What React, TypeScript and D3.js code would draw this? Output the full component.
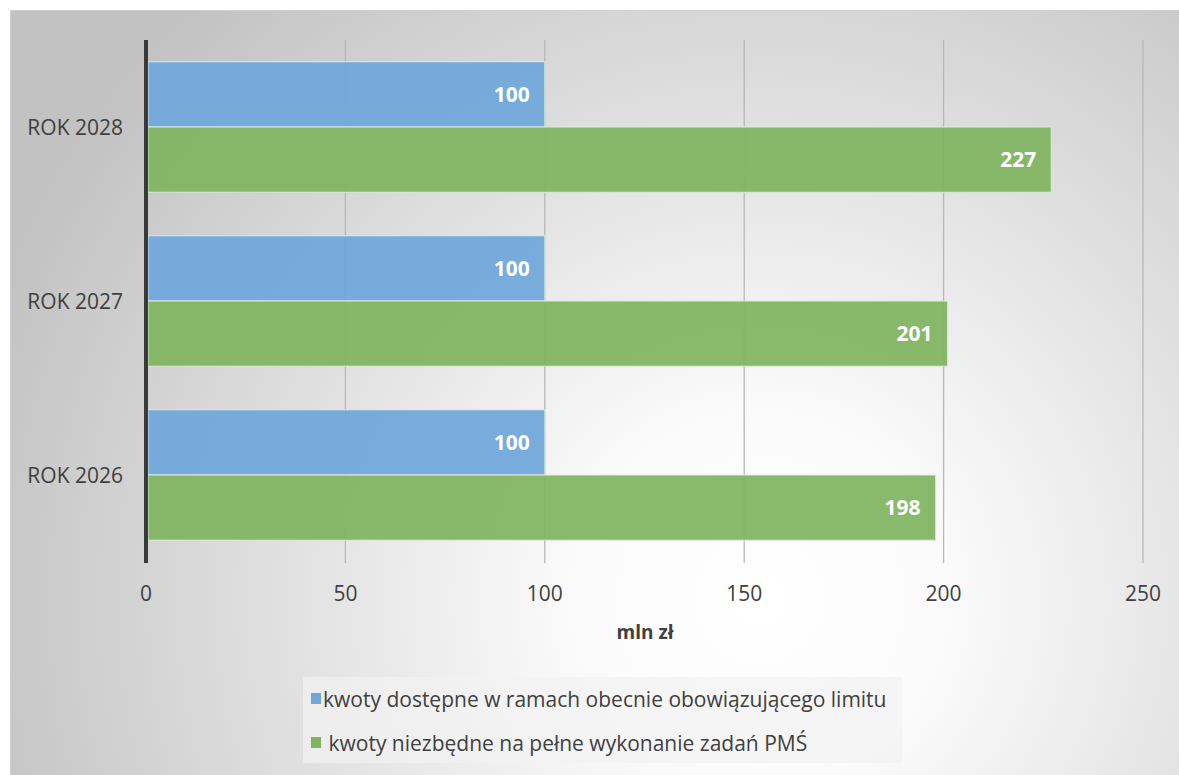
import React, { useEffect, useRef } from "react";
import * as d3 from "d3";

const categories = ["ROK 2028", "ROK 2027", "ROK 2026"];
const seriesNames = [
  "kwoty dostępne w ramach obecnie obowiązującego limitu",
  " kwoty niezbędne na pełne wykonanie zadań PMŚ",
];
const availableValues = [100, 100, 100];
const requiredValues = [227, 201, 198];
const xTicks = [0, 50, 100, 150, 200, 250];
const colors = ["#6fa7da", "#80b560"];

const W = 1179;
const H = 775;
const FONT = "Open Sans, Carlito, sans-serif";

const drawChart = (svgEl: SVGSVGElement) => {
  const svg = d3.select(svgEl);
  svg.selectAll("*").remove();

  const defs = svg.append("defs");
  const grad = defs
    .append("radialGradient")
    .attr("id", "bg")
    .attr("gradientUnits", "userSpaceOnUse")
    .attr("cx", 760)
    .attr("cy", 600)
    .attr("r", 820);
  grad.append("stop").attr("offset", "0").attr("stop-color", "#ffffff");
  grad.append("stop").attr("offset", "0.22").attr("stop-color", "#fbfbfb");
  grad.append("stop").attr("offset", "1").attr("stop-color", "#c2c2c2");

  svg
    .append("rect")
    .attr("x", 10.5)
    .attr("y", 10.5)
    .attr("width", W)
    .attr("height", H)
    .attr("fill", "url(#bg)")
    .attr("stroke", "#d0d0d0");

  const x = d3.scaleLinear().domain([0, 250]).range([146, 1143]);
  const y = d3.scaleBand().domain(categories).range([40, 562]).paddingInner(0.25).paddingOuter(0.125);
  const sub = d3.scaleBand().domain(["0", "1"]).range([0, y.bandwidth()]);

  // gridlines
  svg
    .append("g")
    .selectAll("line")
    .data(xTicks.slice(1))
    .enter()
    .append("line")
    .attr("x1", (d) => x(d))
    .attr("x2", (d) => x(d))
    .attr("y1", 40)
    .attr("y2", 563)
    .attr("stroke", "#b8b8b8")
    .attr("stroke-width", 1.3);

  const rows = categories.map((c, i) => ({
    cat: c,
    vals: [availableValues[i], requiredValues[i]],
  }));

  const groups = svg
    .append("g")
    .selectAll("g")
    .data(rows)
    .enter()
    .append("g")
    .attr("transform", (d) => `translate(0,${y(d.cat)})`);

  groups
    .selectAll("rect")
    .data((d) => d.vals.map((v, j) => ({ v, j })))
    .enter()
    .append("rect")
    .attr("x", x(0) + 2)
    .attr("y", (d) => sub(String(d.j)) || 0)
    .attr("width", (d) => x(d.v) - x(0) - 2)
    .attr("height", sub.bandwidth())
    .attr("fill", (d) => colors[d.j])
    .attr("fill-opacity", 0.93)
    .attr("stroke", "#ddeedd")
    .attr("stroke-opacity", 0.8)
    .attr("stroke-width", 1.2);

  groups
    .selectAll("text")
    .data((d) => d.vals.map((v, j) => ({ v, j })))
    .enter()
    .append("text")
    .attr("x", (d) => x(d.v) - 15)
    .attr("y", (d) => (sub(String(d.j)) || 0) + sub.bandwidth() / 2)
    .attr("dy", "0.36em")
    .attr("text-anchor", "end")
    .attr("fill", "#ffffff")
    .attr("font-family", FONT)
    .attr("font-weight", "bold")
    .attr("font-size", 21)
    .text((d) => d.v);

  // category labels
  svg
    .append("g")
    .selectAll("text")
    .data(categories)
    .enter()
    .append("text")
    .attr("x", 123)
    .attr("y", (d) => (y(d) || 0) + y.bandwidth() / 2)
    .attr("dy", "0.36em")
    .attr("text-anchor", "end")
    .attr("fill", "#404040")
    .attr("font-family", FONT)
    .attr("font-size", 21)
    .text((d) => d);

  // vertical axis line
  svg
    .append("line")
    .attr("x1", x(0))
    .attr("x2", x(0))
    .attr("y1", 40)
    .attr("y2", 563)
    .attr("stroke", "#3a3a3a")
    .attr("stroke-width", 4);

  // x tick labels
  svg
    .append("g")
    .selectAll("text")
    .data(xTicks)
    .enter()
    .append("text")
    .attr("x", (d) => x(d))
    .attr("y", 601)
    .attr("text-anchor", "middle")
    .attr("fill", "#404040")
    .attr("font-family", FONT)
    .attr("font-size", 21)
    .text((d) => d);

  svg
    .append("text")
    .attr("x", 645)
    .attr("y", 639)
    .attr("text-anchor", "middle")
    .attr("fill", "#404040")
    .attr("font-family", FONT)
    .attr("font-weight", "bold")
    .attr("font-size", 19)
    .text("mln zł");

  // legend
  const legend = svg.append("g");
  legend
    .append("rect")
    .attr("x", 303)
    .attr("y", 677)
    .attr("width", 599)
    .attr("height", 86)
    .attr("fill", "#f2f2f2")
    .attr("fill-opacity", 0.7);

  const items = legend
    .selectAll("g")
    .data(seriesNames)
    .enter()
    .append("g")
    .attr("transform", (_, i) => `translate(311,${699 + i * 44})`);

  items
    .append("rect")
    .attr("x", 0)
    .attr("y", -6)
    .attr("width", 10)
    .attr("height", 11)
    .attr("fill", (_, i) => colors[i]);

  items
    .append("text")
    .attr("x", 12)
    .attr("y", 0)
    .attr("dy", "0.36em")
    .attr("fill", "#404040")
    .attr("font-family", FONT)
    .attr("font-size", 21)
    .attr("xml:space", "preserve")
    .style("white-space", "pre")
    .text((d) => d);
};

const App = () => {
  const ref = useRef<SVGSVGElement>(null);
  useEffect(() => {
    if (ref.current) drawChart(ref.current);
  }, []);
  return (
    <svg
      ref={ref}
      width={W}
      height={H}
      style={{ position: "absolute", left: 0, top: 0, background: "#ffffff" }}
    ></svg>
  );
};

export default App;
